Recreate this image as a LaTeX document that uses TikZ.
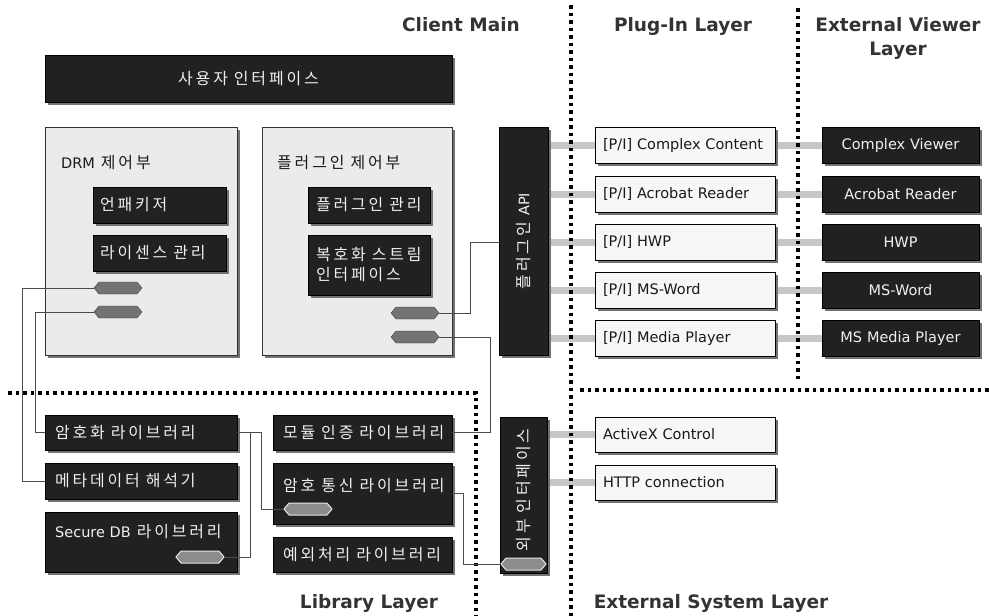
\documentclass[tikz,border=0pt]{standalone}
\usepackage{fontspec}
\setmainfont{DejaVu Sans}
\newfontfamily\kr[Scale=1.1,LetterSpace=18]{Noto Sans CJK KR}
\newcommand\hg[1]{{\kr #1}}
\newcommand\ks{\hspace*{6pt}}
\usetikzlibrary{shapes.symbols,shadows,backgrounds}
\begin{document}
\begin{tikzpicture}[x=1pt,y=-1pt,
 shd/.style={drop shadow={shadow xshift=3pt,shadow yshift=-3pt,fill=black!55,opacity=1}},
 dbox/.style={draw=black,fill=black!87,text=black!6,shd,inner xsep=10pt,inner ysep=0pt,align=left,font=\fontsize{14.5}{20}\selectfont},
 lbox/.style={draw=black,fill=black!3,text=black!90,shd,inner xsep=8pt,inner ysep=0pt,align=left,font=\fontsize{14.5}{18}\selectfont},
 cbox/.style={draw=black!80,fill=black!8,shd,inner sep=0pt},
 hexd/.style={shape=signal,signal to=east and west,signal pointer angle=100,draw=black!75,fill=black!55,minimum width=48pt,minimum height=12pt,inner sep=0pt},
 hexl/.style={hexd,draw=black!10,fill=black!45,line width=1pt},
 wire/.style={draw=black!70,line width=0.8pt},
 pipe/.style={draw=black!22,line width=7pt},
 dots/.style={line width=3.5pt,dash pattern=on 3.5pt off 4pt},
 ttl/.style={font=\fontsize{18.5}{24}\selectfont\bfseries,text=black!80,align=center},
 ktext/.style={font=\fontsize{14.5}{18}\selectfont,text=black!90,inner sep=2pt},
 wtext/.style={font=\fontsize{14.5}{18}\selectfont,text=black!6,inner sep=0pt}
]
\useasboundingbox (0,0) rectangle (989,616);

% titles
\node[ttl] (tcm) at (461,25) {Client Main};
\node[ttl] (tpl) at (683,26) {Plug-In Layer};
\node[ttl] (tev) at (898,38) {External Viewer\\Layer};
\node[ttl] (tlib) at (369,603) {Library Layer};
\node[ttl] (tes) at (711,603) {External System Layer};

% client main
\node[dbox,align=center,text width=387pt,minimum height=47pt] (ui) at (248.5,78.5) {\hg{사용자}\ks\hg{인터페이스}};
\node[cbox,minimum width=192pt,minimum height=228pt] (drm) at (141,241) {};
\node[cbox,minimum width=190pt,minimum height=228pt] (plg) at (357,241) {};
\node[ktext,anchor=west] (drmt) at (59,163) {DRM\ks\hg{제어부}};
\node[ktext,anchor=west] (plgt) at (275,163) {\hg{플러그인}\ks\hg{제어부}};
\node[dbox,inner xsep=7pt,text width=119pt,minimum height=36pt] (unp) at (159.5,205) {\hg{언패키저}};
\node[dbox,inner xsep=7pt,text width=119pt,minimum height=36pt] (lic) at (159.5,253) {\hg{라이센스}\ks\hg{관리}};
\node[dbox,inner xsep=8pt,text width=106pt,minimum height=36pt] (pmg) at (369,205) {\hg{플러그인}\ks\hg{관리}};
\node[dbox,inner xsep=8pt,text width=106pt,minimum height=60pt] (dec) at (369,265) {\hg{복호화}\ks\hg{스트림}\\\hg{인터페이스}};
\node[hexd] (dh1) at (118,288) {};
\node[hexd] (dh2) at (118,312) {};
\node[hexd] (ph1) at (415,313) {};
\node[hexd] (ph2) at (415,337) {};

% plug-in API bar
\node[dbox,minimum width=49pt,minimum height=228pt,inner sep=0pt] (api) at (523.5,241) {};
\node[wtext,rotate=90] (apit) at (523.5,241) {\hg{플러그인}\ks API};

% plug-in boxes
\node[lbox,text width=164pt,minimum height=36pt] (p1) at (685,145) {\mbox{[P/I] Complex Content}};
\node[lbox,text width=164pt,minimum height=36pt] (p2) at (685,194) {[P/I] Acrobat Reader};
\node[lbox,text width=164pt,minimum height=36pt] (p3) at (685,242) {[P/I] HWP};
\node[lbox,text width=164pt,minimum height=36pt] (p4) at (685,290) {[P/I] MS-Word};
\node[lbox,text width=164pt,minimum height=36pt] (p5) at (685,338) {[P/I] Media Player};

% viewers
\node[dbox,align=center,text width=137pt,minimum height=36pt] (v1) at (900.5,145) {Complex Viewer};
\node[dbox,align=center,text width=137pt,minimum height=36pt] (v2) at (900.5,194) {Acrobat Reader};
\node[dbox,align=center,text width=137pt,minimum height=36pt] (v3) at (900.5,242) {HWP};
\node[dbox,align=center,text width=137pt,minimum height=36pt] (v4) at (900.5,290) {MS-Word};
\node[dbox,align=center,text width=137pt,minimum height=36pt] (v5) at (900.5,338) {MS Media Player};

% library layer
\node[dbox,text width=172pt,minimum height=35pt] (enc) at (141,432.5) {\hg{암호화}\ks\hg{라이브러리}};
\node[dbox,text width=172pt,minimum height=36pt] (meta) at (141,481) {\hg{메타데이터}\ks\hg{해석기}};
\node[dbox,minimum width=192pt,minimum height=60pt,inner sep=0pt] (sdb) at (141,542) {};
\node[wtext,anchor=west] (sdbt) at (55,532) {Secure DB\ks\hg{라이브러리}};
\node[hexl] (sh) at (200,557) {};
\node[dbox,text width=159pt,minimum height=35pt] (mod) at (362.5,432.5) {\hg{모듈}\ks\hg{인증}\ks\hg{라이브러리}};
\node[dbox,minimum width=179pt,minimum height=61pt,inner sep=0pt] (comm) at (362.5,493.5) {};
\node[wtext,anchor=west] (commt) at (283,486) {\hg{암호}\ks\hg{통신}\ks\hg{라이브러리}};
\node[hexl] (ch) at (308,509) {};
\node[dbox,text width=159pt,minimum height=35pt] (exc) at (362.5,554.5) {\hg{예외처리}\ks\hg{라이브러리}};

% external interface bar
\node[dbox,minimum width=47pt,minimum height=156pt,inner sep=0pt] (ext) at (523.5,495) {};
\node[wtext,rotate=90] (extt) at (523.5,490) {\hg{외부}\ks\hg{인터페이스}};
\node[hexl,minimum width=45pt] (eh) at (523.5,564) {};

% external systems
\node[lbox,text width=164pt,minimum height=35pt] (ax) at (685,434.5) {ActiveX Control};
\node[lbox,text width=164pt,minimum height=35pt] (http) at (685,482.5) {HTTP connection};

% background: pipes and layer separators
\begin{scope}[on background layer]
 \foreach \i in {1,...,5} {
   \draw[pipe] (p\i.west -| api.east) -- (p\i.west);
   \draw[pipe] (p\i.east) -- (v\i.west);
 }
 \draw[pipe] (ax.west -| ext.east) -- (ax.west);
 \draw[pipe] (http.west -| ext.east) -- (http.west);
 \coordinate (d1t) at (571,5);   \coordinate (d1b) at (571,616);
 \coordinate (d2t) at (798,8);   \coordinate (d2b) at (798,381);
 \coordinate (d3t) at (476,393); \coordinate (d3b) at (476,616);
 \coordinate (h1l) at (8,393);   \coordinate (h2l) at (580,390); \coordinate (h2r) at (989,390);
 \draw[dots] (d1t) -- (d1b);
 \draw[dots] (d2t) -- (d2b);
 \draw[dots] (h1l) -- (d3t) -- (d3b);
 \draw[dots] (h2l) -- (h2r);
\end{scope}

% wires
\draw[wire] (ph1.east) -| (470,242) -- (api.west |- 470,242);
\draw[wire] (ph2.east) -| (490,432.5) -- (mod.east);
\draw[wire] (dh1.west) -| (22,481) -- (meta.west);
\draw[wire] (dh2.west) -| (35,432.5) -- (enc.west);
\draw[wire] (enc.east) -| (250,557) -- (sh.east);
\draw[wire] (enc.east) -| (261,509) -- (ch.west);
\draw[wire] (comm.east) -| (463,564) -- (eh.west);
\end{tikzpicture}
\end{document}
